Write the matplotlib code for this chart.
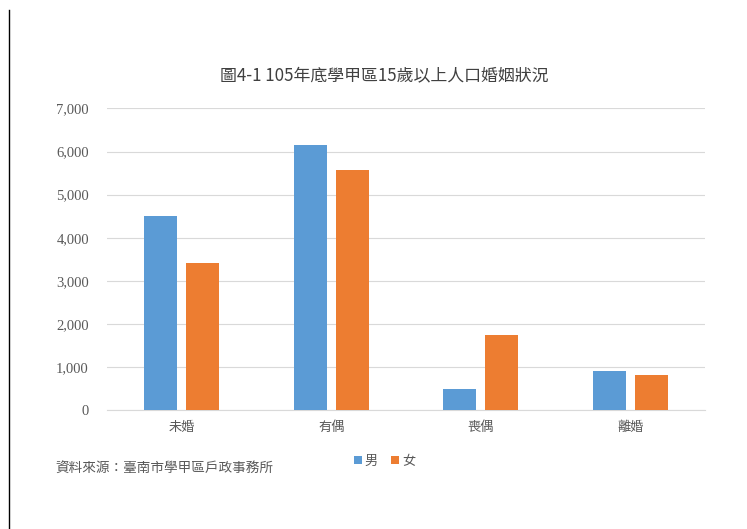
import matplotlib
matplotlib.use("Agg")
import matplotlib.pyplot as plt
from matplotlib.lines import Line2D
from matplotlib.ticker import FuncFormatter
import numpy as np

plt.rcParams['font.family'] = ['Noto Sans CJK TC', 'DejaVu Sans']

categories = ['未婚', '有偶', '喪偶', '離婚']
male = [4510, 6160, 480, 905]
female = [3420, 5580, 1735, 805]
title = '圖4-1 105年底學甲區15歲以上人口婚姻狀況'
source = '資料來源：臺南市學甲區戶政事務所'

blue = '#5B9BD5'
orange = '#ED7D31'
text_color = '#595959'

fig = plt.figure(figsize=(7.47, 5.29), dpi=100)
ax = fig.add_axes([0.1432, 0.2250, 0.8006, 0.5699])

x = np.arange(len(categories))
w = 0.22
gap = 0.06
ax.bar(x - (w + gap) / 2, male, w, color=blue, label='男', zorder=3)
ax.bar(x + (w + gap) / 2, female, w, color=orange, label='女', zorder=3)

ax.set_xlim(-0.5, len(categories) - 0.5)
ax.set_ylim(0, 7000)
ax.set_yticks(range(0, 7001, 1000))
ax.yaxis.set_major_formatter(FuncFormatter(lambda v, p: f'{int(v):,}'))
ax.set_xticks(x)
ax.set_xticklabels(categories)
ax.grid(axis='y', color='#D9D9D9', linewidth=0.8, zorder=0)
for s in ['top', 'right', 'left']:
    ax.spines[s].set_visible(False)
ax.spines['bottom'].set_color('#D9D9D9')
ax.tick_params(axis='both', length=0, colors=text_color, labelsize=9.5)
ax.tick_params(axis='y', pad=13)
ax.tick_params(axis='x', pad=8)
for lab in ax.get_yticklabels():
    lab.set_family(['Liberation Serif', 'DejaVu Serif'])
    lab.set_fontsize(10.5)

fig.text(0.515, 0.858, title, ha='center', va='center', fontsize=12.2, color='#404040')
fig.text(0.074, 0.115, source, ha='left', va='center', fontsize=9.8, color=text_color)

leg = fig.legend(loc='center', bbox_to_anchor=(0.515, 0.128), ncol=2, frameon=False,
                 fontsize=9.5, handlelength=0.6, handleheight=0.6, handletextpad=0.2,
                 columnspacing=1.0, labelcolor=text_color)

fig.add_artist(Line2D([0.0127, 0.0127], [0.0, 0.982], color='black', linewidth=1))

fig.savefig('out.png', dpi=100)
